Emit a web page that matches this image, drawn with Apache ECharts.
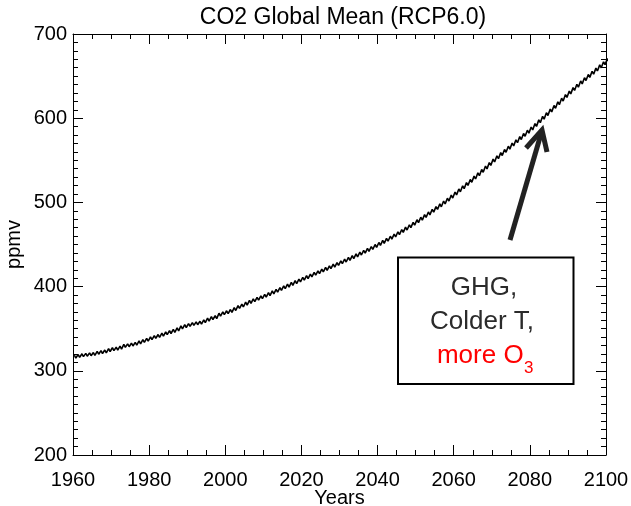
<!DOCTYPE html>
<html>
<head>
<meta charset="utf-8">
<title>CO2 Global Mean (RCP6.0)</title>
<script src="https://cdn.jsdelivr.net/npm/echarts@6/dist/echarts.min.js"></script>
<style>
  html, body { margin: 0; padding: 0; background: #fff; }
  #chart { width: 631px; height: 506px; }
</style>
</head>
<body>
<div id="chart"></div>
<script>
// Annual-mean CO2 (ppmv): observed record to 2005, RCP6.0 pathway after.
const firstYear = 1960;
const annualMean = [
  316.9, 317.6, 318.5, 319.0, 319.6, 320.0, 321.4, 322.2, 323.0, 324.6, // 1960s
  325.7, 326.3, 327.5, 329.6, 330.3, 331.2, 332.1, 333.8, 335.4, 336.8, // 1970s
  338.7, 340.1, 341.4, 343.0, 344.6, 346.0, 347.4, 349.2, 351.6, 353.1, // 1980s
  354.4, 355.6, 356.4, 357.1, 358.8, 360.8, 362.6, 363.7, 366.7, 368.4, // 1990s
  369.6, 371.1, 373.3, 375.8, 377.5, 379.8, 381.9, 383.8, 385.6, 387.4, // 2000s
  389.1, 391.1, 393.1, 395.1, 397.1, 399.2, 401.2, 403.2, 405.3, 407.3, // 2010s
  409.4, 411.3, 413.2, 415.2, 417.1, 419.1, 421.0, 423.0, 424.9, 426.9, // 2020s
  428.9, 430.9, 432.9, 435.0, 437.1, 439.2, 441.4, 443.6, 445.9, 448.3, // 2030s
  450.7, 453.1, 455.6, 458.1, 460.7, 463.4, 466.1, 468.9, 471.7, 474.7, // 2040s
  477.7, 480.7, 483.8, 486.9, 490.1, 493.3, 496.5, 499.9, 503.3, 506.9, // 2050s
  510.6, 514.3, 518.0, 521.8, 525.6, 529.5, 533.4, 537.4, 541.5, 545.6, // 2060s
  549.8, 553.6, 557.4, 561.2, 565.0, 568.8, 572.6, 576.4, 580.2, 584.0, // 2070s
  587.8, 592.0, 596.3, 600.6, 604.9, 609.2, 613.5, 617.8, 622.1, 626.4, // 2080s
  630.6, 634.6, 638.6, 642.5, 646.4, 650.2, 654.0, 657.8, 661.6, 665.3, // 2090s
  669.0                                                                   // 2100
];
// Seasonal cycle: spring maximum and autumn minimum (fraction of year, ppmv anomaly).
const seasonalPhase = [0.35, 0.75];
const seasonalAnomaly = [1.7, -1.7];

// Axis ticks
const xTicks = { min: 1960, max: 2100, step: 20, minorSplit: 4 };
const yTicks = { min: 200, max: 700, step: 100, minorSplit: 10 };

// Seasonal series built from the annual means and the seasonal anomaly.
const co2Series = [];
annualMean.forEach((v, i) => {
  seasonalPhase.forEach((p, k) => {
    co2Series.push([firstYear + i + p, +(v + seasonalAnomaly[k]).toFixed(2)]);
  });
});

const FONT = '"Liberation Sans", Arial, Helvetica, sans-serif';
const chart = echarts.init(document.getElementById('chart'), null, { renderer: 'canvas' });

function tickStyle(split) {
  return {
    axisLine: { show: true, onZero: false, lineStyle: { color: '#000', width: 1 } },
    axisTick: { show: true, inside: true, length: 10, lineStyle: { color: '#000', width: 1 } },
    minorTick: { show: true, splitNumber: split, length: 5, lineStyle: { color: '#000', width: 1 } },
    splitLine: { show: false },
    minorSplitLine: { show: false }
  };
}

function xAxisDef(pos, labels) {
  return Object.assign({
    type: 'value', position: pos,
    min: xTicks.min, max: xTicks.max, interval: xTicks.step,
    axisLabel: { show: labels, color: '#000', fontFamily: FONT, fontSize: 20, margin: 15,
                 formatter: v => String(v) },
    name: labels ? 'Years' : '', nameLocation: 'middle', nameGap: 33, nameMoveOverlap: false,
    nameTextStyle: { color: '#000', fontFamily: FONT, fontSize: 20 }
  }, tickStyle(xTicks.minorSplit));
}
function yAxisDef(pos, labels) {
  return Object.assign({
    type: 'value', position: pos,
    min: yTicks.min, max: yTicks.max, interval: yTicks.step,
    axisLabel: { show: labels, color: '#000', fontFamily: FONT, fontSize: 20, margin: 6,
                 formatter: v => String(v) },
    name: labels ? 'ppmv' : '', nameLocation: 'middle', nameGap: 49, nameMoveOverlap: false,
    nameTextStyle: { color: '#000', fontFamily: FONT, fontSize: 20 }
  }, tickStyle(yTicks.minorSplit));
}

// Annotation text: measure "more O" so the subscript sits right after it.
const boxFont = '26px ' + FONT;
const measureCtx = document.createElement('canvas').getContext('2d');
measureCtx.font = boxFont;
const moreOWidth = measureCtx.measureText('more O').width;
measureCtx.font = '17px ' + FONT;
const subWidth = measureCtx.measureText('3').width;
const ozoneLeft = 485 - (moreOWidth + subWidth) / 2;

chart.setOption({
  animation: false,
  backgroundColor: '#fff',
  title: {
    text: 'CO2 Global Mean (RCP6.0)',
    left: 338, top: 1, textAlign: 'center',
    textStyle: { color: '#000', fontFamily: FONT, fontSize: 23, fontWeight: 'normal' }
  },
  grid: { left: 73, right: 25, top: 34, bottom: 51, containLabel: false, outerBoundsMode: 'none' },
  xAxis: [xAxisDef('bottom', true), xAxisDef('top', false)],
  yAxis: [yAxisDef('left', true), yAxisDef('right', false)],
  series: [{
    type: 'line',
    data: co2Series,
    xAxisIndex: 0, yAxisIndex: 0,
    showSymbol: false, symbol: 'none',
    clip: true,
    lineStyle: { color: '#000', width: 1.6 }
  }],
  graphic: [
    // Annotation box
    { type: 'rect', shape: { x: 398, y: 257.5, width: 175.5, height: 126.5 },
      style: { fill: '#fff', stroke: '#000', lineWidth: 2 }, z: 10 },
    { type: 'text', x: 484, y: 288, z: 11,
      style: { text: 'GHG,', fill: '#2b2b2b', font: boxFont, textAlign: 'center', textVerticalAlign: 'middle' } },
    { type: 'text', x: 482, y: 322, z: 11,
      style: { text: 'Colder T,', fill: '#2b2b2b', font: boxFont, textAlign: 'center', textVerticalAlign: 'middle' } },
    { type: 'text', x: ozoneLeft, y: 356, z: 11,
      style: { text: 'more O', fill: '#ff0000', font: boxFont, textAlign: 'left', textVerticalAlign: 'middle' } },
    { type: 'text', x: ozoneLeft + moreOWidth + 0.5, y: 368, z: 11,
      style: { text: '3', fill: '#ff0000', font: '17px ' + FONT, textAlign: 'left', textVerticalAlign: 'middle' } },
    // Arrow pointing at the curve
    { type: 'line', z: 11, shape: { x1: 510, y1: 240, x2: 541, y2: 134 },
      style: { stroke: '#222', lineWidth: 5 } },
    { type: 'polyline', z: 11, shape: { points: [[526, 148], [542, 130], [547, 152]] },
      style: { stroke: '#222', fill: null, lineWidth: 5, lineJoin: 'miter' } }
  ]
});
</script>
</body>
</html>
